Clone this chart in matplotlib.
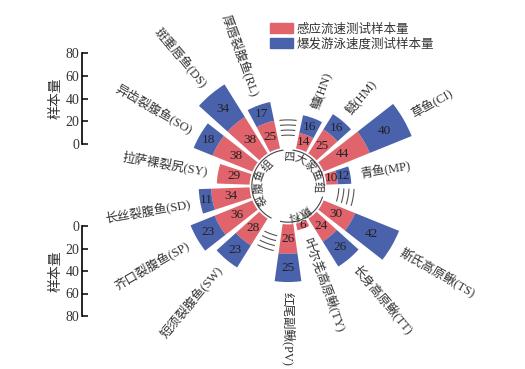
import numpy as np
import matplotlib.pyplot as plt
from matplotlib.patches import Patch

# clockwise from the top, None marks the gap between groups
codes = [None, 'HN', 'HM', 'CI', 'MP', None, 'TS', 'TT', 'TY', 'PV',
         None, 'SW', 'SP', 'SD', 'SY', 'SO', 'DS', 'RL']
names = {'HN': '鳙', 'HM': '鲢', 'CI': '草鱼', 'MP': '青鱼',
         'TS': '斯氏高原鳅', 'TT': '长身高原鳅', 'TY': '叶尔羌高原鳅', 'PV': '红尾副鳅',
         'SW': '短须裂腹鱼', 'SP': '齐口裂腹鱼', 'SD': '长丝裂腹鱼', 'SY': '拉萨裸裂尻',
         'SO': '异齿裂腹鱼', 'DS': '斑重唇鱼', 'RL': '厚唇裂腹鱼'}
flow = {'HN': 14, 'HM': 25, 'CI': 44, 'MP': 10, 'TS': 30, 'TT': 24, 'TY': 6,
        'PV': 26, 'SW': 28, 'SP': 36, 'SD': 34, 'SY': 29, 'SO': 38, 'DS': 38, 'RL': 25}
burst = {'HN': 16, 'HM': 16, 'CI': 40, 'MP': 12, 'TS': 42, 'TT': 26, 'TY': 0,
         'PV': 25, 'SW': 23, 'SP': 23, 'SD': 11, 'SY': 0, 'SO': 18, 'DS': 34, 'RL': 17}
groups = [('四大家鱼组', ['HN', 'HM', 'CI', 'MP']),
          ('鳅科', ['TS', 'TT', 'TY', 'PV']),
          ('裂腹鱼组', ['SW', 'SP', 'SD', 'SY', 'SO', 'DS', 'RL'])]
legend_labels = ['感应流速测试样本量', '爆发游泳速度测试样本量']

red = '#E1646C'
blue = '#4A62AB'
txt = '#333333'
cjk = ['Liberation Serif', 'Noto Sans CJK SC']

W, H = 525, 369
fig = plt.figure(figsize=(W / 100, H / 100), dpi=100)

cx, cy = 288, 186          # centre of the circle, px from top left
ppu = 1.13                 # px per sample
rmax = 200
rpx = rmax * ppu
ax = fig.add_axes([(cx - rpx) / W, (H - cy - rpx) / H, 2 * rpx / W, 2 * rpx / H],
                  projection='polar')
ax.set_theta_zero_location('N')
ax.set_theta_direction(-1)
ax.set_ylim(0, rmax)
ax.axis('off')

step = 360 / len(codes)
ang = {c: i * step for i, c in enumerate(codes) if c}
sp = [c for c in codes if c]
th = np.deg2rad([ang[c] for c in sp])
f = np.array([flow[c] for c in sp])
b = np.array([burst[c] for c in sp])
r0 = 34
w = np.deg2rad(16)

ax.bar(th, f, width=w, bottom=r0, color=red, linewidth=0)
ax.bar(th, b, width=w, bottom=r0 + f, color=blue, linewidth=0)

for t, c, fv, bv in zip(th, sp, f, b):
    ax.text(t, r0 + fv / 2, str(fv), ha='center', va='center', fontsize=9.5,
            family='Liberation Serif', color='#222222')
    if bv:
        ax.text(t, r0 + fv + bv / 2, str(bv), ha='center', va='center', fontsize=9.5,
                family='Liberation Serif', color='#222222')
    d = ang[c]
    rl = r0 + fv + bv + 9
    if d <= 180:
        rot, ha = 90 - d, 'left'
    else:
        rot, ha = 270 - d, 'right'
    ax.text(t, rl, f'{names[c]}({c})', rotation=rot, rotation_mode='anchor',
            ha=ha, va='center', fontsize=9, family=cjk, color=txt)

# break marks in the gaps
for i, c in enumerate(codes):
    if c is None:
        g = i * step
        tt = np.deg2rad(np.linspace(g - 7, g + 7, 30))
        for rr in [45, 49.5, 54, 58.5]:
            ax.plot(tt, np.full_like(tt, rr), color='#555555', lw=0.8)

# group rings and curved group names
centres = [47, 157, 278]
steps = [22, 22, 24]
for (gname, members), gc, gs in zip(groups, centres, steps):
    a0 = ang[members[0]] - 12
    a1 = ang[members[-1]] + 12
    tt = np.deg2rad(np.linspace(a0, a1, 100))
    ax.plot(tt, np.full_like(tt, 32), color='#444444', lw=0.8)
    n = len(gname)
    for k, ch in enumerate(gname):
        d = gc + (k - (n - 1) / 2) * gs
        ax.text(np.deg2rad(d), 26, ch, rotation=-d, rotation_mode='anchor',
                ha='center', va='center', fontsize=8, family=cjk, color=txt)

# sample size scales
for top, bottom, flip in [(53, 144, False), (226, 316, True)]:
    sa = fig.add_axes([82 / W, (H - max(top, bottom)) / H, 0.001, abs(bottom - top) / H])
    sa.set_ylim((80, 0) if flip else (0, 80))
    sa.set_yticks([0, 20, 40, 60, 80])
    sa.set_xticks([])
    for s in ['top', 'right', 'bottom']:
        sa.spines[s].set_visible(False)
    sa.spines['left'].set_linewidth(1.2)
    sa.patch.set_alpha(0)
    sa.tick_params(axis='y', direction='in', length=4.5, width=1.1, pad=2,
                   labelsize=10, labelcolor=txt)
    for lab in sa.get_yticklabels():
        lab.set_family('Liberation Serif')
    sa.set_ylabel('样本量', family=cjk, fontsize=10, color=txt, labelpad=2)

handles = [Patch(color=red), Patch(color=blue)]
fig.legend(handles, legend_labels, loc='upper left', bbox_to_anchor=(259 / W, 1 - 12 / H),
           frameon=False, prop={'family': cjk, 'size': 9}, labelcolor=txt,
           handlelength=1.8, handleheight=0.8, handletextpad=0.3, labelspacing=0.2)

fig.savefig('out.png', dpi=100)
